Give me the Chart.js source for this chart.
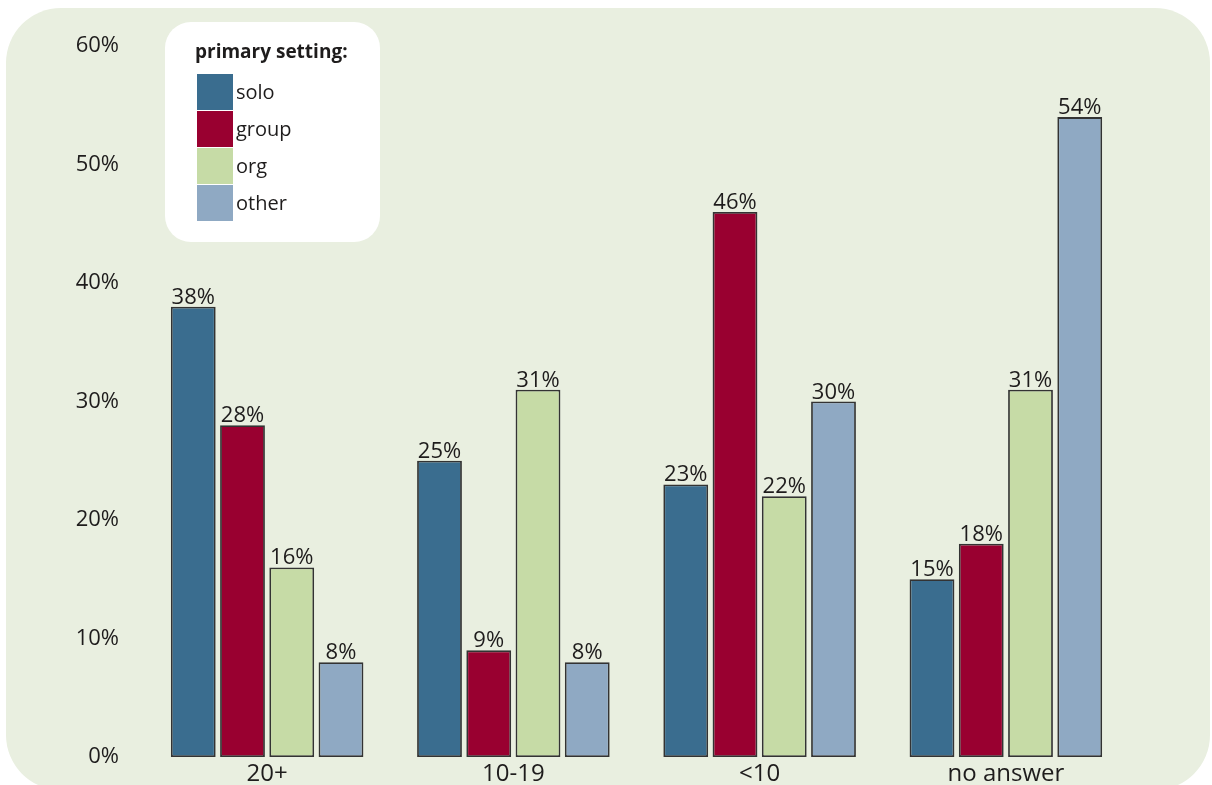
<!DOCTYPE html>
<html>
<head>
<meta charset="utf-8">
<script src="https://cdn.jsdelivr.net/npm/chart.js@4"></script>
<style>
html,body{margin:0;padding:0;background:#ffffff;}
#wrap{width:1212px;height:785px;position:relative;}
canvas{display:block;}
</style>
</head>
<body>
<div id="wrap"><canvas id="c" width="1212" height="785"></canvas></div>
<script>
const categories = ["20+", "10-19", "<10", "no answer"];
const seriesNames = ["solo", "group", "org", "other"];
const solo  = [38, 25, 23, 15];
const group = [28, 9, 46, 18];
const org   = [16, 31, 22, 31];
const other = [8, 8, 30, 54];
const yTicks = [0, 10, 20, 30, 40, 50, 60];
const legendTitle = "primary setting:";

const colors = ["#3a6d8f", "#990030", "#c6dba6", "#8fa9c3"];
const FONT = "'Open Sans', 'Noto Sans', sans-serif";
const TEXT = "#1e1c1c";

function rr(ctx, x, y, w, h, r) {
  ctx.beginPath();
  ctx.moveTo(x + r, y);
  ctx.lineTo(x + w - r, y);
  ctx.arcTo(x + w, y, x + w, y + r, r);
  ctx.lineTo(x + w, y + h - r);
  ctx.arcTo(x + w, y + h, x + w - r, y + h, r);
  ctx.lineTo(x + r, y + h);
  ctx.arcTo(x, y + h, x, y + h - r, r);
  ctx.lineTo(x, y + r);
  ctx.arcTo(x, y, x + r, y, r);
  ctx.closePath();
}

const panelPlugin = {
  id: 'panel',
  beforeDraw(chart) {
    const ctx = chart.ctx;
    ctx.save();
    ctx.fillStyle = "#e9efe0";
    rr(ctx, 6, 8, 1204, 782, 55);
    ctx.fill();
    // legend box
    ctx.fillStyle = "#ffffff";
    rr(ctx, 165, 22, 215, 220, 26);
    ctx.fill();
    ctx.fillStyle = TEXT;
    ctx.font = "bold 19px " + FONT;
    ctx.textAlign = "left";
    ctx.textBaseline = "middle";
    ctx.fillText(legendTitle, 195, 53);
    ctx.font = "20px " + FONT;
    chart.data.datasets.forEach((ds, i) => {
      const y = 74 + i * 37;
      ctx.fillStyle = ds.backgroundColor;
      ctx.fillRect(197, y, 36, 36);
      ctx.fillStyle = TEXT;
      ctx.fillText(ds.label, 236, y + 19);
    });
    ctx.restore();
  }
};

const labelPlugin = {
  id: 'vals',
  afterDatasetsDraw(chart) {
    const ctx = chart.ctx;
    ctx.save();
    ctx.fillStyle = TEXT;
    ctx.font = "22px " + FONT;
    ctx.textAlign = "center";
    ctx.textBaseline = "alphabetic";
    chart.data.datasets.forEach((ds, i) => {
      const meta = chart.getDatasetMeta(i);
      meta.data.forEach((bar, j) => {
        ctx.fillText(ds.data[j] + "%", bar.x, bar.y - 3);
      });
    });
    ctx.restore();
  }
};

const series = [solo, group, org, other];
new Chart(document.getElementById('c'), {
  type: 'bar',
  data: {
    labels: categories,
    datasets: seriesNames.map((n, i) => ({
      label: n,
      data: series[i],
      backgroundColor: colors[i],
      borderColor: "#333333",
      borderWidth: 1.8,
      borderSkipped: false,
      categoryPercentage: 0.8,
      barPercentage: 0.91
    }))
  },
  options: {
    responsive: false,
    animation: false,
    layout: { padding: { top: 46, right: 83, bottom: 0, left: 0 } },
    plugins: { legend: { display: false }, tooltip: { enabled: false } },
    scales: {
      x: {
        grid: { display: false, drawTicks: false },
        border: { display: false },
        ticks: { color: TEXT, font: { family: FONT, size: 24 }, padding: 3, maxRotation: 0 },
        afterFit(s) { s.height = 28; }
      },
      y: {
        min: 0, max: 60,
        grid: { display: false, drawTicks: true, tickLength: 25 },
        border: { display: false },
        afterBuildTicks(s) { s.ticks = yTicks.map(v => ({ value: v })); },
        ticks: { color: TEXT, font: { family: FONT, size: 22 }, padding: 0, callback: v => v + "%" },
        afterFit(s) { s.width = 144; }
      }
    }
  },
  plugins: [panelPlugin, labelPlugin]
});
</script>
</body>
</html>
